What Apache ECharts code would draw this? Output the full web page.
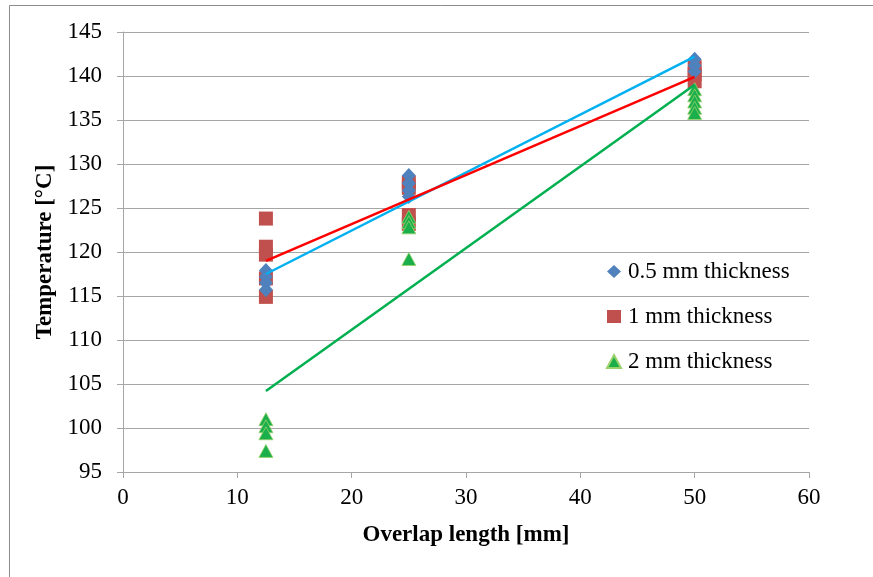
<!DOCTYPE html>
<html>
<head>
<meta charset="utf-8">
<script src="https://cdn.jsdelivr.net/npm/echarts@6/dist/echarts.min.js"></script>
<style>
html,body{margin:0;padding:0;background:#fff;}
#chart{width:873px;height:577px;}
</style>
</head>
<body>
<div id="chart"></div>
<script>
// Data
const xTicks = [0, 10, 20, 30, 40, 50, 60];
const yTicks = [95, 100, 105, 110, 115, 120, 125, 130, 135, 140, 145];

const seriesNames = ['0.5 mm thickness', '1 mm thickness', '2 mm thickness'];

const thin05 = [
  [12.5, 117.9], [12.5, 117.2], [12.5, 116.5], [12.5, 115.7],
  [25, 128.7], [25, 127.8], [25, 127.0], [25, 126.3],
  [50, 141.9], [50, 141.2], [50, 140.5]
];
const thin1 = [
  [12.5, 123.8], [12.5, 120.6], [12.5, 119.7], [12.5, 117.0], [12.5, 114.9],
  [25, 127.9], [25, 127.3], [25, 124.2], [25, 123.2],
  [50, 141.0], [50, 140.2], [50, 139.4]
];
const thin2 = [
  [12.5, 101.0], [12.5, 100.2], [12.5, 99.4], [12.5, 97.4],
  [25, 124.0], [25, 123.4], [25, 122.8], [25, 119.2],
  [50, 138.5], [50, 137.8], [50, 137.1], [50, 136.4], [50, 135.8]
];

// Trend lines (end points)
const trend05 = [[12.5, 117.5], [50, 142.2]];
const trend1 = [[12.5, 119.0], [50, 139.9]];
const trend2 = [[12.5, 104.2], [50, 139.0]];

const serif = '"Liberation Serif", "Times New Roman", serif';

const chart = echarts.init(document.getElementById('chart'));
chart.setOption({
  animation: false,
  backgroundColor: '#fff',
  graphic: [{
    type: 'rect',
    shape: {x: 9.5, y: 5.5, width: 1000, height: 1000},
    style: {fill: 'none', stroke: '#8c8c8c', lineWidth: 1},
    silent: true
  }],
  grid: {left: 123, right: 64, top: 32, bottom: 105, containLabel: false},
  legend: {
    orient: 'vertical',
    left: 601,
    top: 255,
    data: seriesNames,
    itemWidth: 14,
    itemHeight: 13,
    itemGap: 22,
    textStyle: {fontFamily: serif, fontSize: 23, color: '#000', padding: [0, 0, 0, 2]},
    selectedMode: false
  },
  xAxis: {
    type: 'value',
    min: 0, max: 60, interval: 10,
    name: 'Overlap length [mm]',
    nameLocation: 'middle',
    nameGap: 52,
    nameTextStyle: {fontFamily: serif, fontSize: 23, fontWeight: 'bold', color: '#000'},
    axisLine: {show: true, lineStyle: {color: '#a6a6a6', width: 1}},
    axisTick: {show: true, length: 6, lineStyle: {color: '#a6a6a6'}},
    axisLabel: {fontFamily: serif, fontSize: 23, color: '#000', margin: 14,
      formatter: v => xTicks.includes(v) ? String(v) : ''},
    splitLine: {show: false}
  },
  yAxis: {
    type: 'value',
    min: 95, max: 145, interval: 5,
    name: 'Temperature [°C]',
    nameLocation: 'middle',
    nameGap: 66,
    nameRotate: 90,
    nameTextStyle: {fontFamily: serif, fontSize: 23, fontWeight: 'bold', color: '#000'},
    axisLine: {show: true, lineStyle: {color: '#a6a6a6', width: 1}},
    axisTick: {show: true, length: 6, lineStyle: {color: '#a6a6a6'}},
    axisLabel: {fontFamily: serif, fontSize: 23, color: '#000', margin: 21,
      formatter: v => yTicks.includes(v) ? String(v) : ''},
    splitLine: {show: true, lineStyle: {color: '#a6a6a6', width: 1}}
  },
  series: [
    {
      name: seriesNames[1], type: 'scatter', data: thin1,
      symbol: 'rect', symbolSize: 14, z: 2,
      itemStyle: {color: '#c0504d', opacity: 1}
    },
    {
      name: seriesNames[0], type: 'scatter', data: thin05,
      symbol: 'diamond', symbolSize: [14, 15], z: 3,
      itemStyle: {color: '#4f81bd', opacity: 1}
    },
    {
      name: seriesNames[2], type: 'scatter', data: thin2,
      symbol: 'triangle', symbolSize: [14, 13], z: 4,
      itemStyle: {color: '#1aaf4b', borderColor: '#9bd16a', borderWidth: 0.8, opacity: 1}
    },
    {
      name: 'trend05', type: 'line', data: trend05, symbol: 'none', z: 5,
      lineStyle: {color: '#00b0f0', width: 2.5}
    },
    {
      name: 'trend1', type: 'line', data: trend1, symbol: 'none', z: 5,
      lineStyle: {color: '#ff0000', width: 2.5}
    },
    {
      name: 'trend2', type: 'line', data: trend2, symbol: 'none', z: 5,
      lineStyle: {color: '#00b050', width: 2.5}
    }
  ]
});
</script>
</body>
</html>
